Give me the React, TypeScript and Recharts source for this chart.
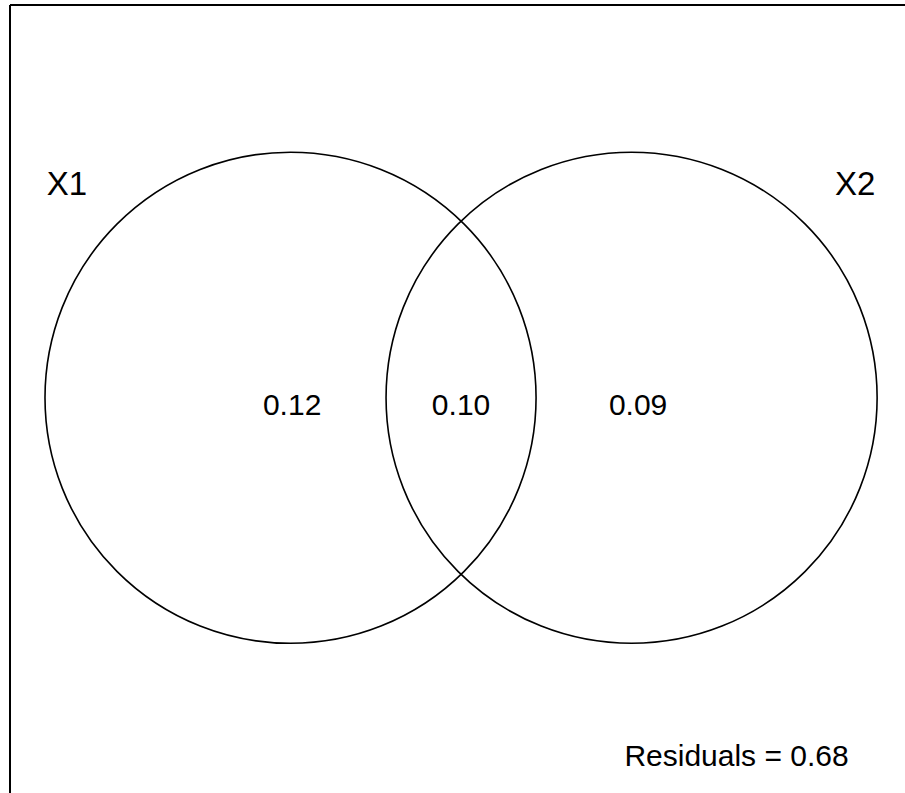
import React from 'react';
import { ScatterChart, Scatter, XAxis, YAxis, ReferenceLine } from 'recharts';

// Set names and circle geometry (data units: circle radius = 1)
const setNames = ['X1', 'X2'];
const circleCenterX = [-0.6945, 0.6945];
const circleCenterY = [0, 0];
const circleRadius = [1, 1];

// Set name label positions
const setLabelX = [-1.605, 1.605];
const setLabelY = [0.829, 0.829];

// Region values
const regionValues = ['0.12', '0.10', '0.09'];
const regionX = [-0.688, 0, 0.721];
const regionY = [-0.071, -0.071, -0.071];

// Residuals
const residualsText = ['Residuals = 0.68'];
const residualsX = [1.122];
const residualsY = [-1.501];

const X_DOMAIN: [number, number] = [-1.837, 1.808];
const Y_DOMAIN: [number, number] = [-1.613, 1.603];

const WIDTH = 905;
const HEIGHT = 793;
const MARGIN = { top: 5, left: 10, right: 0, bottom: 0 };
const PLOT_W = WIDTH - MARGIN.left - MARGIN.right;
const PX_PER_UNIT = PLOT_W / (X_DOMAIN[1] - X_DOMAIN[0]);

const FONT = '"Liberation Sans", Arial, sans-serif';

const circleData = setNames.map((n, i) => ({
  name: n,
  x: circleCenterX[i],
  y: circleCenterY[i],
  r: circleRadius[i],
}));

const setLabelData = setNames.map((n, i) => ({ label: n, x: setLabelX[i], y: setLabelY[i], size: 33 }));
const regionData = regionValues.map((v, i) => ({ label: v, x: regionX[i], y: regionY[i], size: 30 }));
const residualData = residualsText.map((v, i) => ({ label: v, x: residualsX[i], y: residualsY[i], size: 30 }));

const CircleShape = (props: any) => {
  const { cx, cy, payload } = props;
  return (
    <circle cx={cx} cy={cy} r={payload.r * PX_PER_UNIT} fill="none" stroke="#000" strokeWidth={1.6} />
  );
};

const TextShape = (props: any) => {
  const { cx, cy, payload } = props;
  return (
    <text x={cx} y={cy} textAnchor="middle" fontSize={payload.size} fontFamily={FONT} fill="#000">
      {payload.label}
    </text>
  );
};

export default function App() {
  return (
    <div style={{ position: 'absolute', left: 0, top: 0, background: '#fff' }}>
      <ScatterChart width={WIDTH} height={HEIGHT} margin={MARGIN}>
        <XAxis type="number" dataKey="x" domain={X_DOMAIN} hide allowDataOverflow />
        <YAxis type="number" dataKey="y" domain={Y_DOMAIN} hide allowDataOverflow />
        <ReferenceLine y={Y_DOMAIN[1]} stroke="#000" strokeWidth={2} ifOverflow="visible" />
        <ReferenceLine x={X_DOMAIN[0]} stroke="#000" strokeWidth={2} ifOverflow="visible" />
        <Scatter data={circleData} shape={CircleShape} isAnimationActive={false} />
        <Scatter data={setLabelData} shape={TextShape} isAnimationActive={false} />
        <Scatter data={regionData} shape={TextShape} isAnimationActive={false} />
        <Scatter data={residualData} shape={TextShape} isAnimationActive={false} />
      </ScatterChart>
    </div>
  );
}
